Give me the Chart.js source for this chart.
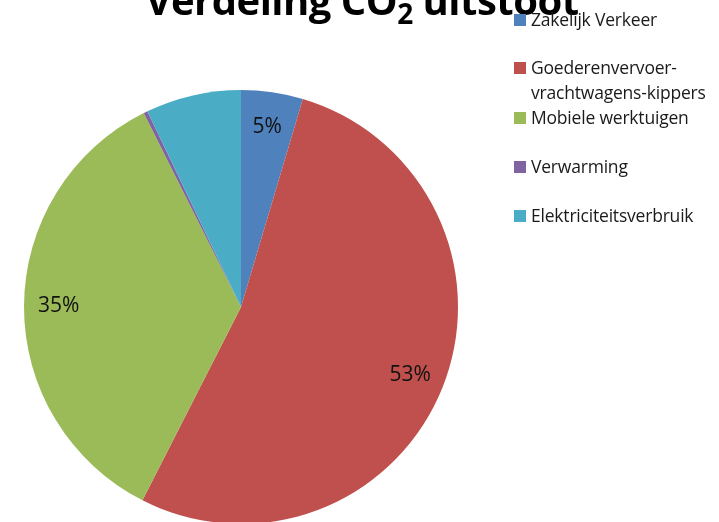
<!DOCTYPE html>
<html>
<head>
<meta charset="utf-8">
<script src="https://cdn.jsdelivr.net/npm/chart.js@4"></script>
<style>
  html, body { margin: 0; padding: 0; background: #fff; }
  #wrap { position: relative; width: 719px; height: 522px; overflow: hidden; font-family: "Open Sans", "Noto Sans", sans-serif; }
  #chartBox { position: absolute; left: 0; top: 0; width: 719px; height: 560px; }
  #title { position: absolute; left: 132px; top: -28px; width: 460px; text-align: center; font-size: 40px; font-weight: bold; color: #000; white-space: nowrap; letter-spacing: -0.5px; }
  #title sub { font-size: 28px; vertical-align: -9px; line-height: 0; }
  .leg { position: absolute; left: 514px; font-size: 17.5px; color: #1a1a1a; line-height: 25px; white-space: nowrap; letter-spacing: -0.2px; }
  .leg span.box { position: absolute; left: 0; top: 7px; width: 12px; height: 12px; }
  .leg span.txt { display: block; margin-left: 17px; }
</style>
</head>
<body>
<div id="wrap">
  <div id="chartBox"><canvas id="myChart" width="719" height="560"></canvas></div>
  <div id="title">Verdeling CO<sub>2</sub> uitstoot</div>
  <div id="legend"></div>
</div>
<script>
const categories = ["Zakelijk Verkeer", "Goederenvervoer-vrachtwagens-kippers", "Mobiele werktuigen", "Verwarming", "Elektriciteitsverbruik"];
const legendLines = [["Zakelijk Verkeer"], ["Goederenvervoer-", "vrachtwagens-kippers"], ["Mobiele werktuigen"], ["Verwarming"], ["Elektriciteitsverbruik"]];
const values = [4.6, 52.9, 35.1, 0.3, 7.1];
const colors = ["#4F81BD", "#C0504D", "#9BBB59", "#8064A2", "#4BACC6"];
const legendTops = [7, 55, 105, 154, 203];

// legend as html
const leg = document.getElementById("legend");
legendLines.forEach(function(lines, i){
    const d = document.createElement("div");
    d.className = "leg";
    d.style.top = legendTops[i] + "px";
    d.innerHTML = '<span class="box" style="background:' + colors[i] + '"></span><span class="txt">' + lines.join("<br>") + '</span>';
    leg.appendChild(d);
});

const total = values.reduce((a, b) => a + b, 0);

const pctLabels = {
    id: "pctLabels",
    afterDatasetsDraw(chart) {
        const ctx = chart.ctx;
        const meta = chart.getDatasetMeta(0);
        ctx.save();
        ctx.font = '21px "Open Sans", "Noto Sans", sans-serif';
        ctx.fillStyle = "#111";
        ctx.textAlign = "center";
        ctx.textBaseline = "middle";
        meta.data.forEach(function(arc, i){
            const pct = Math.round(values[i] / total * 100);
            if (values[i] < 3 || i == 4) return;
            const mid = (arc.startAngle + arc.endAngle) / 2;
            const r = arc.outerRadius * 0.84;
            ctx.fillText(pct + "%", arc.x + Math.cos(mid) * r, arc.y + Math.sin(mid) * r);
        });
        ctx.restore();
    }
};

const ctx = document.getElementById("myChart").getContext("2d");
const myChart = new Chart(ctx, {
    type: "pie",
    data: {
        labels: categories,
        datasets: [{
            data: values,
            backgroundColor: colors,
            borderWidth: 0
        }]
    },
    options: {
        responsive: false,
        animation: false,
        layout: { padding: { left: 24, right: 261, top: 90, bottom: 36 } },
        plugins: {
            legend: { display: false },
            tooltip: { enabled: false }
        }
    },
    plugins: [pctLabels]
});
</script>
</body>
</html>
